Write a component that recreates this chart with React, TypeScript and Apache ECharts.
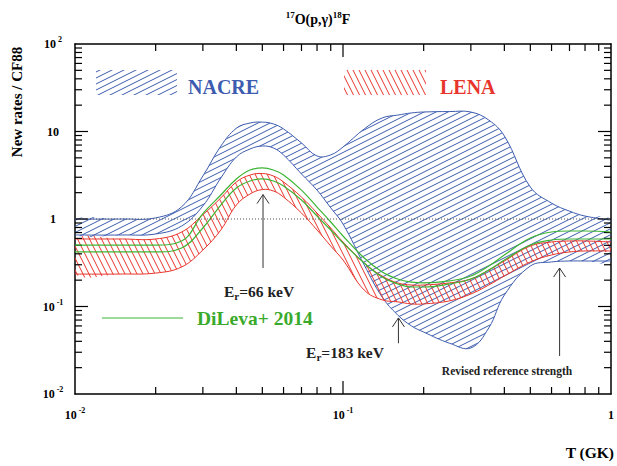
import React, { useEffect, useRef } from 'react';
import * as echarts from 'echarts';

// Temperature grid (GK)
const T = [0.01, 0.015, 0.02, 0.025, 0.03, 0.035, 0.04, 0.045, 0.05, 0.055, 0.06, 0.07, 0.08, 0.09, 0.1, 0.12, 0.14, 0.16, 0.18, 0.2, 0.25, 0.3, 0.35, 0.4, 0.5, 0.6, 0.7, 0.8, 1.0];

// NACRE band (ratio to CF88)
const nacreHigh = [1.0, 1.0, 1.03, 1.38, 3.1, 6.8, 10.9, 12.5, 12.8, 12.2, 10.7, 7.4, 5.25, 5.4, 6.65, 10.7, 14.3, 15.4, 16.3, 16.7, 16.9, 16.7, 13.5, 8.9, 2.32, 1.52, 1.23, 1.08, 0.97];
const nacreLow = [0.657, 0.657, 0.674, 0.832, 1.41, 2.94, 5.11, 6.31, 6.83, 6.48, 5.39, 3.27, 2.14, 1.34, 0.877, 0.298, 0.128, 0.08, 0.06, 0.051, 0.038, 0.0336, 0.057, 0.135, 0.29, 0.323, 0.331, 0.331, 0.331];

// LENA band
const lenaHigh = [0.591, 0.591, 0.591, 0.71, 1.12, 1.74, 2.65, 3.18, 3.31, 3.1, 2.65, 1.78, 1.17, 0.789, 0.546, 0.314, 0.223, 0.186, 0.176, 0.176, 0.186, 0.206, 0.261, 0.331, 0.491, 0.546, 0.561, 0.561, 0.546];
const lenaLow = [0.235, 0.235, 0.241, 0.283, 0.442, 0.749, 1.445, 1.93, 2.17, 2.09, 1.78, 1.17, 0.749, 0.491, 0.34, 0.154, 0.119, 0.113, 0.107, 0.107, 0.116, 0.139, 0.176, 0.223, 0.323, 0.388, 0.42, 0.431, 0.431];

// DiLeva+ 2014 limits
const dilevaHigh = [0.504, 0.504, 0.504, 0.561, 1.15, 1.88, 2.87, 3.63, 3.83, 3.63, 3.18, 2.14, 1.37, 0.924, 0.639, 0.358, 0.248, 0.206, 0.19, 0.186, 0.196, 0.223, 0.29, 0.388, 0.606, 0.71, 0.729, 0.729, 0.71];
const dilevaLow = [0.42, 0.42, 0.42, 0.466, 0.789, 1.445, 2.26, 2.72, 2.87, 2.72, 2.38, 1.65, 1.08, 0.749, 0.532, 0.314, 0.217, 0.181, 0.167, 0.167, 0.181, 0.206, 0.261, 0.34, 0.504, 0.575, 0.591, 0.591, 0.591];

// Reference line
const unityLine = [[0.01, 1], [1, 1]];

// Ticks (axis values)
const xMajor = [0.01, 0.1, 1];
const yMajor = [0.01, 0.1, 1, 10, 100];
const xMinor = [0.02, 0.03, 0.04, 0.05, 0.06, 0.07, 0.08, 0.09, 0.2, 0.3, 0.4, 0.5, 0.6, 0.7, 0.8, 0.9];
const yMinor = [0.02, 0.03, 0.04, 0.05, 0.06, 0.07, 0.08, 0.09, 0.2, 0.3, 0.4, 0.5, 0.6, 0.7, 0.8, 0.9, 2, 3, 4, 5, 6, 7, 8, 9, 20, 30, 40, 50, 60, 70, 80, 90];

// Annotation arrows (T, from ratio, to ratio)
const arrows = [
  { t: 0.0503, from: 0.275, to: 1.9 },
  { t: 0.161, from: 0.038, to: 0.074 },
  { t: 0.643, from: 0.0272, to: 0.275 },
];

const FONT = "'Liberation Serif', 'Times New Roman', serif";
const BLUE = '#3d5caf';
const RED = '#e8352b';
const GREEN = '#3db534';
const SMOOTH = 0.4;
const W = 617;
const H = 466;
const GRID = { left: 75, right: 5, top: 44, bottom: 72 };

function hatch(w: number, h: number, color: string, dir: 'up' | 'down') {
  const c = document.createElement('canvas');
  c.width = w;
  c.height = h;
  const g = c.getContext('2d')!;
  g.strokeStyle = color;
  g.lineWidth = 1;
  for (let k = -1; k <= 1; k++) {
    g.beginPath();
    if (dir === 'up') {
      g.moveTo(-w, 2 * h + k * h);
      g.lineTo(2 * w, -h + k * h);
    } else {
      g.moveTo(-w, -h + k * h);
      g.lineTo(2 * w, 2 * h + k * h);
    }
    g.stroke();
  }
  return { image: c.toDataURL(), repeat: 'repeat', imageWidth: w, imageHeight: h };
}

const fmt = (v: number) => {
  const e = Math.round(Math.log10(v));
  if (e === 0) return '{b|1}';
  if (e === 1) return '{b|10}';
  return `{b|10}{s| ${e}}`;
};

const labelRich = {
  b: { fontSize: 12, fontWeight: 'bold', fontFamily: FONT, color: '#000', lineHeight: 20 },
  s: { fontSize: 8, fontWeight: 'bold', fontFamily: FONT, color: '#000', lineHeight: 9, padding: [0, 0, 9, 0] },
};

function logAxis(kind: 'x' | 'y', pos: string, labels: number[] | null) {
  const isX = kind === 'x';
  return {
    type: 'log',
    logBase: 10,
    gridIndex: 0,
    position: pos,
    min: 0.01,
    max: isX ? 1 : 100,
    axisLine: { show: true, onZero: false, lineStyle: { color: '#000', width: 1.5 } },
    axisTick: { show: false },
    axisLabel: labels
      ? {
          show: true,
          customValues: labels,
          formatter: fmt,
          rich: labelRich,
          margin: isX ? 11 : 22,
          align: 'center',
          showMinLabel: true,
          showMaxLabel: true,
        }
      : { show: false },
    splitLine: { show: false },
    minorTick: { show: false },
  };
}

// Tick marks (value, length) pairs
const xTickList = [
  ...xMajor.filter((v) => v > 0.01 && v < 1).map((v) => [v, 13]),
  ...xMinor.map((v) => [v, 7]),
];
const yTickList = [
  ...yMajor.filter((v) => v > 0.01 && v < 100).map((v) => [v, 13]),
  ...yMinor.map((v) => [v, 7]),
];

export default function App() {
  const ref = useRef<HTMLDivElement>(null);
  useEffect(() => {
    const chart = echarts.init(ref.current!, null, { renderer: 'svg' });
    const nacrePat = hatch(12, 6, BLUE, 'up');
    const lenaPat = hatch(6, 12, RED, 'down');

    const pts = (arr: number[]) => T.map((t, i) => [t, arr[i]]);

    const tickChildren = (api: any, cs: any) => {
      const out: any[] = [];
      const b = cs.y + cs.height;
      const r = cs.x + cs.width;
      const mk = (x1: number, y1: number, x2: number, y2: number) => ({
        type: 'line',
        shape: { x1, y1, x2, y2 },
        style: { stroke: '#000', lineWidth: 1.2 },
      });
      xTickList.forEach(([v, len]) => {
        const x = api.coord([v, 1])[0];
        out.push(mk(x, b, x, b - len));
        out.push(mk(x, cs.y, x, cs.y + len));
      });
      yTickList.forEach(([v, len]) => {
        const y = api.coord([0.1, v])[1];
        out.push(mk(cs.x, y, cs.x + len, y));
        out.push(mk(r, y, r - len, y));
      });
      return out;
    };

    const band = (name: string, hi: number[], lo: number[], color: string, pattern: any, withTicks: boolean) => ({
      type: 'custom',
      name,
      xAxisIndex: 0,
      yAxisIndex: 0,
      clip: false,
      silent: true,
      data: T.map((t, i) => [t, hi[i], lo[i]]),
      encode: { x: 0, y: [1, 2] },
      renderItem: (params: any, api: any) => {
        if (params.dataIndex !== 0) return null;
        const up = T.map((t, i) => api.coord([t, hi[i]]));
        const dn = T.map((t, i) => api.coord([t, lo[i]]));
        const cs = params.coordSys;
        const children: any[] = [
          {
            type: 'group',
            clipPath: { type: 'rect', shape: { x: cs.x, y: cs.y, width: cs.width, height: cs.height } },
            children: [
              {
                type: 'polygon',
                shape: { points: [...up, ...dn.slice().reverse()], smooth: SMOOTH },
                style: { fill: pattern, stroke: null },
              },
              {
                type: 'polyline',
                shape: { points: up, smooth: SMOOTH },
                style: { stroke: color, lineWidth: 1, fill: null },
              },
              {
                type: 'polyline',
                shape: { points: dn, smooth: SMOOTH },
                style: { stroke: color, lineWidth: 1, fill: null },
              },
            ],
          },
        ];
        if (withTicks) {
          children.push({ type: 'group', children: tickChildren(api, cs) });
        }
        return { type: 'group', children };
      },
    });

    const lineBase = {
      type: 'line',
      xAxisIndex: 0,
      yAxisIndex: 0,
      smooth: SMOOTH,
      symbol: 'none',
      showSymbol: false,
      silent: true,
    };

    chart.setOption({
      animation: false,
      backgroundColor: '#fff',
      grid: { ...GRID, containLabel: false },
      xAxis: [logAxis('x', 'bottom', xMajor), logAxis('x', 'top', null)],
      yAxis: [logAxis('y', 'left', yMajor), logAxis('y', 'right', null)],
      series: [
        band('NACRE', nacreHigh, nacreLow, BLUE, nacrePat, false),
        band('LENA', lenaHigh, lenaLow, RED, lenaPat, true),
        {
          ...lineBase,
          name: 'DiLeva high',
          data: pts(dilevaHigh),
          lineStyle: { color: GREEN, width: 1.2 },
        },
        {
          ...lineBase,
          name: 'DiLeva low',
          data: pts(dilevaLow),
          lineStyle: { color: GREEN, width: 1.2 },
        },
        {
          ...lineBase,
          name: 'unity',
          data: unityLine,
          smooth: false,
          z: 5,
          lineStyle: { color: '#555', width: 1, type: [1, 2] },
        },
      ],
    });

    const toPx = (x: number, y: number) => {
      const p = chart.convertToPixel({ xAxisIndex: 0, yAxisIndex: 0 }, [x, y]) as number[];
      return [Number(p[0]), Number(p[1])];
    };

    const arrowEls: any[] = [];
    arrows.forEach((a) => {
      const p0 = toPx(a.t, a.from);
      const p1 = toPx(a.t, a.to);
      arrowEls.push({
        type: 'line',
        shape: { x1: p0[0], y1: p0[1], x2: p1[0], y2: p1[1] },
        style: { stroke: '#333', lineWidth: 1 },
        z: 100,
      });
      arrowEls.push({
        type: 'polyline',
        shape: { points: [[p1[0] - 6, p1[1] + 9], [p1[0], p1[1]], [p1[0] + 6, p1[1] + 9]] },
        style: { stroke: '#333', lineWidth: 1, fill: 'none' },
        z: 100,
      });
    });

    const textBold = (x: number, y: number, text: string, size: number, color: string, extra: any = {}) => ({
      type: 'text',
      x,
      y,
      z: 100,
      style: {
        text,
        fontSize: size,
        fontWeight: 'bold',
        fontFamily: FONT,
        fill: color,
        ...extra,
      },
    });

    const erRich = {
      b: { fontSize: 15.5, fontWeight: 'bold', fontFamily: FONT, fill: '#222', color: '#222', lineHeight: 22 },
      sub: { fontSize: 11, fontWeight: 'bold', fontFamily: FONT, fill: '#222', color: '#222', lineHeight: 11, padding: [10, 0, 0, 0] },
    };

    chart.setOption({
      graphic: [
        ...arrowEls,
        textBold(318, 19, '{s|17}{b|O(p,γ)}{s|18}{b|F}', 14, '#000', {
          align: 'center',
          verticalAlign: 'middle',
          rich: {
            b: { fontSize: 14, fontWeight: 'bold', fontFamily: FONT, lineHeight: 20 },
            s: { fontSize: 9, fontWeight: 'bold', fontFamily: FONT, lineHeight: 9, padding: [0, 0, 9, 0] },
          },
        }),
        {
          type: 'text',
          x: 17,
          y: 102,
          rotation: Math.PI / 2,
          z: 100,
          style: {
            text: 'New rates / CF88',
            fontSize: 15,
            fontWeight: 'bold',
            fontFamily: FONT,
            fill: '#000',
            align: 'center',
            verticalAlign: 'middle',
          },
        },
        textBold(614, 452, 'T (GK)', 15.5, '#000', { align: 'right', verticalAlign: 'middle' }),
        { type: 'rect', shape: { x: 96, y: 70, width: 81, height: 25 }, style: { fill: nacrePat }, z: 100 },
        textBold(188, 87, 'NACRE', 20, BLUE, { verticalAlign: 'middle' }),
        { type: 'rect', shape: { x: 344, y: 70, width: 82, height: 25 }, style: { fill: lenaPat }, z: 100 },
        textBold(440, 87, 'LENA', 20, RED, { verticalAlign: 'middle' }),
        {
          type: 'line',
          shape: { x1: 102, y1: 318, x2: 183, y2: 318 },
          style: { stroke: GREEN, lineWidth: 1.2 },
          z: 100,
        },
        textBold(197, 318, 'DiLeva+ 2014', 19.5, '#3aaa2c', { verticalAlign: 'middle' }),
        textBold(259, 291, '{b|E}{sub|r}{b|=66 keV}', 15.5, '#222', { align: 'center', verticalAlign: 'middle', rich: erRich }),
        textBold(345, 352, '{b|E}{sub|r}{b|=183 keV}', 15.5, '#222', { align: 'center', verticalAlign: 'middle', rich: erRich }),
        textBold(507, 371, 'Revised reference strength', 11.5, '#222', { align: 'center', verticalAlign: 'middle' }),
      ],
    });

    return () => chart.dispose();
  }, []);

  return <div ref={ref} style={{ position: 'absolute', left: 0, top: 0, width: W, height: H }} />;
}
